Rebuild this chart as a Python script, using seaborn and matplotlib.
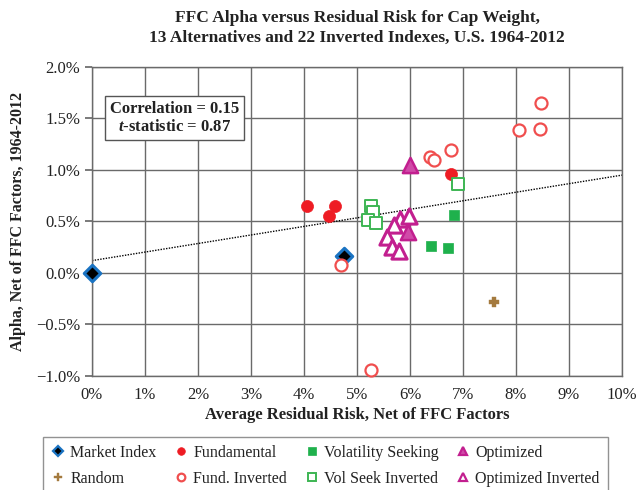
import matplotlib
matplotlib.use("Agg")
import matplotlib.pyplot as plt
from matplotlib.ticker import FuncFormatter
import seaborn as sns
import pandas as pd
import numpy as np

# residual risk (%) and alpha (%)
market_x = [0.0, 4.76]
market_y = [0.0, 0.16]
fund_x = [4.05, 4.58, 4.48, 6.78]
fund_y = [0.65, 0.65, 0.55, 0.96]
volseek_x = [6.83, 6.39, 6.71]
volseek_y = [0.56, 0.26, 0.24]
optim_x = [6.00, 5.96]
optim_y = [1.05, 0.40]
random_x = [7.58]
random_y = [-0.28]
fund_inv_x = [4.69, 8.47, 8.06, 8.46, 6.78, 6.37, 6.45, 5.26]
fund_inv_y = [0.08, 1.65, 1.39, 1.40, 1.19, 1.125, 1.10, -0.945]
volseek_inv_x = [5.26, 5.30, 5.21, 5.35, 6.90]
volseek_inv_y = [0.646, 0.59, 0.51, 0.485, 0.86]
optim_inv_x = [5.82, 5.69, 5.56, 5.66, 5.79, 5.99]
optim_inv_y = [0.52, 0.47, 0.35, 0.25, 0.21, 0.55]

trend_intercept = 0.12
trend_slope = 0.083
corr_text = "Correlation = 0.15"
tstat_value = "0.87"

groups = [
    ("Market Index", market_x, market_y),
    ("Random", random_x, random_y),
    ("Fundamental", fund_x, fund_y),
    ("Fund. Inverted", fund_inv_x, fund_inv_y),
    ("Volatility Seeking", volseek_x, volseek_y),
    ("Vol Seek Inverted", volseek_inv_x, volseek_inv_y),
    ("Optimized", optim_x, optim_y),
    ("Optimized Inverted", optim_inv_x, optim_inv_y),
]

rows = []
for name, xs, ys in groups:
    for x, y in zip(xs, ys):
        rows.append({"Group": name, "Risk": x, "Alpha": y})
df = pd.DataFrame(rows)

# marker styling per group
styles = {
    "Market Index": dict(marker="D", s=70, color="black", edgecolor="#1a73c2", linewidth=2.2),
    "Random": dict(marker="P", s=45, color="#a47a3e", edgecolor="#a47a3e", linewidth=0.3),
    "Fundamental": dict(marker="o", s=75, color="#ee1c24", edgecolor="#ee1c24", linewidth=0.5),
    "Fund. Inverted": dict(marker="o", s=75, color="white", edgecolor="#f04e4e", linewidth=1.6),
    "Volatility Seeking": dict(marker="s", s=60, color="#1fb14c", edgecolor="#1fb14c", linewidth=0.5),
    "Vol Seek Inverted": dict(marker="s", s=65, color="white", edgecolor="#3db553", linewidth=1.4),
    "Optimized": dict(marker="^", s=120, color="#d04aa8", edgecolor="#c21f8f", linewidth=1.8),
    "Optimized Inverted": dict(marker="^", s=120, color="white", edgecolor="#c21f8f", linewidth=2.2),
}

sns.set_theme(style="white")
plt.rcParams["font.family"] = ["Liberation Serif", "DejaVu Serif"]
plt.rcParams["mathtext.fontset"] = "custom"
plt.rcParams["mathtext.rm"] = "Liberation Serif"
plt.rcParams["mathtext.it"] = "Liberation Serif:italic:bold"
plt.rcParams["mathtext.bf"] = "Liberation Serif:bold"

fig = plt.figure(figsize=(6.38, 4.9), dpi=100)
ax = fig.add_axes([0.1442, 0.2327, 0.8307, 0.6306])

# trend line
tx = np.array([0, 10])
ax.plot(tx, trend_intercept + trend_slope * tx, linestyle=(0, (1, 1)), color="black", linewidth=1, zorder=2)

draw_order = ["Market Index", "Fundamental", "Fund. Inverted", "Volatility Seeking",
              "Vol Seek Inverted", "Optimized Inverted", "Optimized", "Random"]
for name in draw_order:
    sub = df[df["Group"] == name]
    st = styles[name]
    sns.scatterplot(data=sub, x="Risk", y="Alpha", ax=ax, marker=st["marker"], s=st["s"],
                    color=st["color"], edgecolor=st["edgecolor"], linewidth=st["linewidth"],
                    zorder=3, legend=False, clip_on=False)

ax.set_xlim(0, 10)
ax.set_ylim(-1.0, 2.0)
ax.set_xticks(np.arange(0, 11, 1))
ax.set_yticks(np.arange(-1.0, 2.01, 0.5))
ax.xaxis.set_major_formatter(FuncFormatter(lambda v, p: f"{v:.0f}%"))
ax.yaxis.set_major_formatter(FuncFormatter(lambda v, p: f"{v:.1f}%".replace("-", "\u2212")))
ax.grid(True, color="#6a6a6a", linewidth=1)
ax.set_axisbelow(True)
for sp in ax.spines.values():
    sp.set_color("#6a6a6a")
    sp.set_linewidth(1)
ax.tick_params(axis="both", labelsize=12, colors="#6a6a6a", labelcolor="#222222", length=5,
               direction="out", left=True, bottom=False)
ax.tick_params(axis="x", pad=3)
ax.set_xlabel("Average Residual Risk, Net of FFC Factors", fontsize=12, fontweight="bold",
              color="#222222", labelpad=3)
ax.set_ylabel("Alpha, Net of FFC Factors, 1964-2012", fontsize=11.5, fontweight="bold",
              color="#222222", labelpad=7)
ax.set_title("FFC Alpha versus Residual Risk for Cap Weight,\n13 Alternatives and 22 Inverted Indexes, U.S. 1964-2012",
             fontsize=12.5, fontweight="bold", color="#222222", pad=18, linespacing=1.3)

ax.text(0.155, 0.835, corr_text + "\n" + r"$\it{t}$" + "-statistic = " + tstat_value,
        transform=ax.transAxes, ha="center", va="center", fontsize=12, fontweight="bold",
        color="#222222", linespacing=1.15,
        bbox=dict(boxstyle="square,pad=0.3", facecolor="white", edgecolor="#555555", linewidth=1))

# legend
handles = []
for name, _, _ in groups:
    st = styles[name]
    sz = 5.5 if st["marker"] != "^" else 6
    h = plt.Line2D([], [], linestyle="none", marker=st["marker"], markersize=sz,
                   markerfacecolor=st["color"], markeredgecolor=st["edgecolor"],
                   markeredgewidth=min(st["linewidth"], 1.6), label=name)
    handles.append(h)
leg = fig.legend(handles=handles, loc="upper center", bbox_to_anchor=(0.51, 0.108), ncol=4,
                 fontsize=11.5, frameon=True, fancybox=False, handletextpad=0.3, columnspacing=1.1,
                 handlelength=0.9, borderpad=0.5, labelspacing=0.6, borderaxespad=0)
leg.get_frame().set_edgecolor("#777777")
leg.get_frame().set_linewidth(1)
for t in leg.get_texts():
    t.set_color("#222222")

fig.savefig("out.png", dpi=100)
